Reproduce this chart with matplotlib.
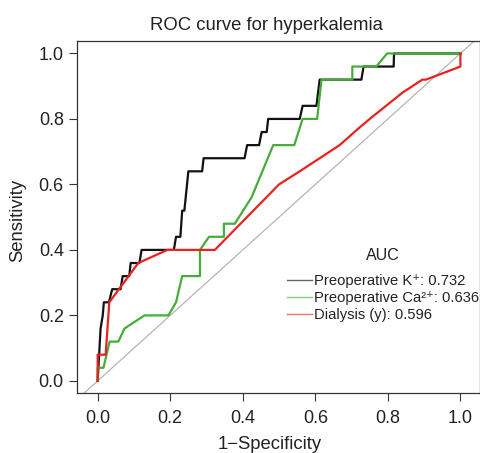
import matplotlib
matplotlib.use('Agg')
import matplotlib.pyplot as plt

plt.rcParams['font.family'] = ['Liberation Sans', 'DejaVu Sans']

# ROC 曲线坐标 (1-特异度, 灵敏度)
k_fpr = [0, 0.008, 0.014, 0.017, 0.031, 0.040, 0.063, 0.069, 0.087, 0.091, 0.115, 0.121,
         0.210, 0.216, 0.228, 0.233, 0.239, 0.250, 0.288, 0.292, 0.405, 0.412, 0.445,
         0.452, 0.466, 0.470, 0.557, 0.565, 0.603, 0.612, 0.727, 0.733, 0.816, 0.817, 1.0]
k_tpr = [0, 0.16, 0.20, 0.24, 0.24, 0.28, 0.28, 0.32, 0.32, 0.36, 0.36, 0.40,
         0.40, 0.44, 0.44, 0.52, 0.52, 0.64, 0.64, 0.68, 0.68, 0.72, 0.72,
         0.76, 0.76, 0.80, 0.80, 0.84, 0.84, 0.92, 0.92, 0.96, 0.96, 1.0, 1.0]

ca_fpr = [0, 0, 0.016, 0.033, 0.057, 0.074, 0.129, 0.195, 0.216, 0.233, 0.282, 0.282,
          0.307, 0.348, 0.348, 0.378, 0.424, 0.484, 0.542, 0.565, 0.605, 0.617,
          0.702, 0.702, 0.768, 0.798, 1.0]
ca_tpr = [0, 0.04, 0.04, 0.12, 0.12, 0.16, 0.20, 0.20, 0.24, 0.32, 0.32, 0.40,
          0.44, 0.44, 0.48, 0.48, 0.56, 0.72, 0.72, 0.80, 0.80, 0.92,
          0.92, 0.96, 0.96, 1.0, 1.0]

dia_fpr = [0, 0, 0.022, 0.032, 0.112, 0.192, 0.323, 0.50, 0.557, 0.667, 0.718, 0.75,
           0.84, 0.895, 0.905, 1.0, 1.0]
dia_tpr = [0, 0.08, 0.08, 0.24, 0.36, 0.40, 0.40, 0.60, 0.64, 0.72, 0.77, 0.80,
           0.88, 0.92, 0.92, 0.96, 1.0]

labels = ['Preoperative K\u207a: 0.732', 'Preoperative Ca\u00b2\u207a: 0.636', 'Dialysis (y): 0.596']
colors = ['#111111', '#47ad3a', '#e8221f']
ticks = [0.0, 0.2, 0.4, 0.6, 0.8, 1.0]
tick_labels = ['0.0', '0.2', '0.4', '0.6', '0.8', '1.0']

fig = plt.figure(figsize=(4.81, 4.53), dpi=100)
ax = fig.add_axes([77 / 481, 1 - 393 / 453, 403 / 481, 352 / 453])

ax.plot([-0.2, 1.2], [-0.2, 1.2], color='#b5b5b5', linewidth=0.9, zorder=1)
lines = []
for fpr, tpr, c in zip([k_fpr, ca_fpr, dia_fpr], [k_tpr, ca_tpr, dia_tpr], colors):
    ln, = ax.plot(fpr, tpr, color=c, linewidth=1.6, zorder=2)
    lines.append(ln)

ax.set_xlim(-0.057, 1.054)
ax.set_ylim(-0.037, 1.038)
ax.set_xticks(ticks)
ax.set_xticklabels(tick_labels)
ax.set_yticks(ticks)
ax.set_yticklabels(tick_labels)
ax.tick_params(axis='both', length=5.5, width=0.8, color='#333333', labelsize=13,
               labelcolor='#222222')
ax.tick_params(axis='x', pad=7)
ax.tick_params(axis='y', pad=4)
for s in ax.spines.values():
    s.set_color('#333333')
    s.set_linewidth(0.9)

ax.set_title('ROC curve for hyperkalemia', fontsize=13.3, color='#222222',
             x=(266 - 77) / 403, pad=8)
ax.set_xlabel('1\u2212Specificity', fontsize=13.3, color='#222222')
ax.xaxis.set_label_coords((270 - 77) / 403, -0.122)
ax.set_ylabel('Sensitivity', fontsize=13.3, color='#222222')
ax.yaxis.set_label_coords(-0.127, 0.489)

# 图例标题单独放置
ax.text((383 - 77) / 403, (393 - 256) / 352, 'AUC', transform=ax.transAxes,
        ha='center', va='center', fontsize=11.5, color='#222222')
leg = ax.legend(lines, labels, loc='upper left',
                bbox_to_anchor=((287 - 77) / 403, (393 - 274) / 352),
                frameon=False, fontsize=10.6, borderpad=0,
                borderaxespad=0, handlelength=1.7, handletextpad=0.15,
                labelspacing=0.2)
for h in leg.legend_handles:
    h.set_linewidth(1.0)
    h.set_alpha(0.65)
for t in leg.get_texts():
    t.set_color('#222222')

fig.savefig('out.png', dpi=100)
